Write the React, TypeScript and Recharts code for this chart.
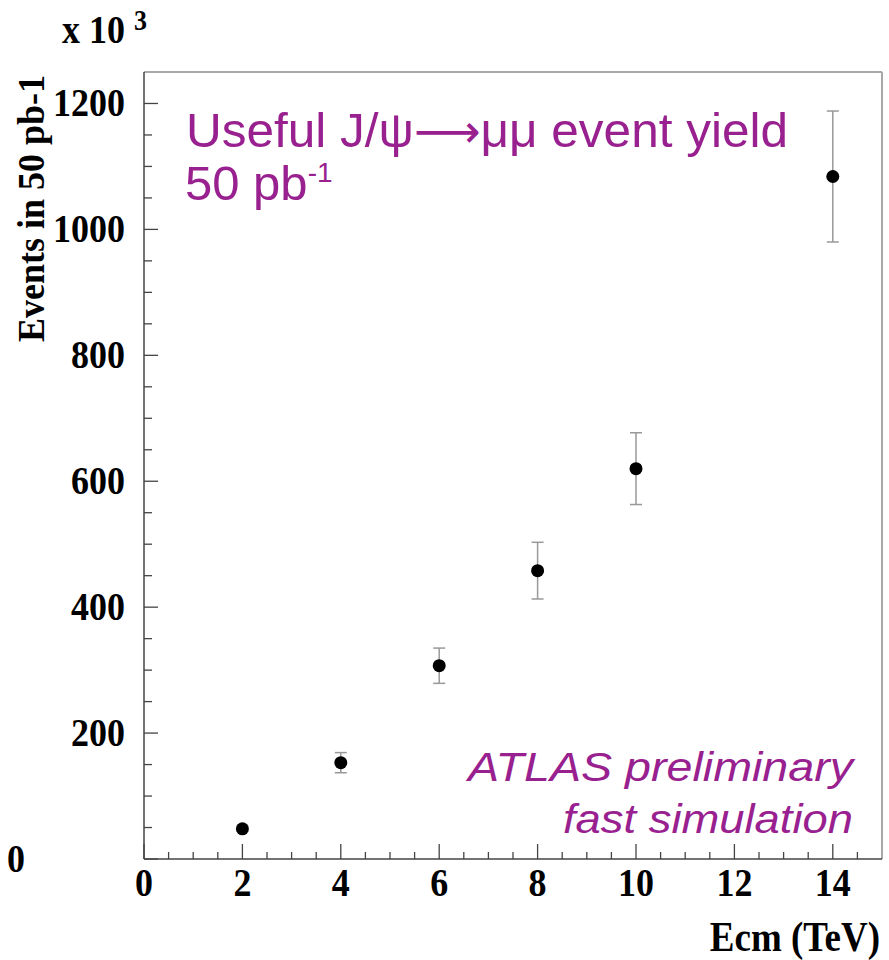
import React from 'react';
import {
    ComposedChart,
    Scatter,
    ErrorBar,
    XAxis,
    YAxis,
    ReferenceLine,
} from 'recharts';

// centre-of-mass energy (TeV) and event yield (x 10^3) with errors
const energies = [2, 4, 6, 8, 10, 14];
const yields = [48, 153, 307, 458, 620, 1084];
const yieldErrors = [4, 16, 28, 45, 57, 104];

const xTicks = [
    0, 0.5, 1, 1.5, 2, 2.5, 3, 3.5, 4, 4.5, 5, 5.5, 6, 6.5, 7, 7.5, 8, 8.5, 9,
    9.5, 10, 10.5, 11, 11.5, 12, 12.5, 13, 13.5, 14, 14.5,
];
const yTicks = [
    0, 50, 100, 150, 200, 250, 300, 350, 400, 450, 500, 550, 600, 650, 700, 750,
    800, 850, 900, 950, 1000, 1050, 1100, 1150, 1200,
];

const data = energies.map((e, i) => ({
    ecm: e,
    events: yields[i],
    err: yieldErrors[i],
}));

const PURPLE = '#98208f';
const AXIS = '#444';
const FRAME = '#a8a8a8';
const serif = '"Liberation Serif", "Times New Roman", serif';
const sans = '"Liberation Sans", Arial, sans-serif';

// ROOT-style labels are a bit taller than plain Times bold
const label = (x: number, y: number, text: string, anchor: string, size = 36) => (
    <text
        transform={`translate(${x},${y}) scale(1,1.12)`}
        textAnchor={anchor}
        fontFamily={serif}
        fontWeight="bold"
        fontSize={size}
        fill="#000"
    >
        {text}
    </text>
);

const YTick = (props: any) => {
    const { x, y, payload } = props;
    const v = payload.value;
    const major = v % 200 === 0;
    return (
        <g>
            <line x1={x} y1={y} x2={x + (major ? 14 : 8)} y2={y} stroke={AXIS} strokeWidth={1.3} />
            {major && label(v === 0 ? x - 119 : x - 19, y + 13, String(v), 'end')}
        </g>
    );
};

const XTick = (props: any) => {
    const { x, y, payload } = props;
    const v = payload.value;
    const major = v % 2 === 0;
    return (
        <g>
            <line x1={x} y1={y} x2={x} y2={y - (major ? 15 : 7)} stroke={AXIS} strokeWidth={1.3} />
            {major && label(x, y + 37, String(v), 'middle')}
        </g>
    );
};

const Dot = (props: any) => <circle cx={props.cx} cy={props.cy} r={6.5} fill="#000" />;

export default function App() {
    return (
        <div style={{ position: 'absolute', left: 0, top: 0, width: 889, height: 960, background: '#fff' }}>
            <ComposedChart
                width={889}
                height={960}
                data={data}
                margin={{ top: 72, right: 7, bottom: 0, left: 0 }}
            >
                <XAxis
                    dataKey="ecm"
                    type="number"
                    domain={[0, 15]}
                    ticks={xTicks}
                    interval={0}
                    height={101}
                    tickSize={0}
                    tickMargin={0}
                    tickLine={false}
                    tick={<XTick />}
                    axisLine={{ stroke: AXIS, strokeWidth: 1.5 }}
                    allowDecimals
                />
                <YAxis
                    type="number"
                    domain={[0, 1250]}
                    ticks={yTicks}
                    interval={0}
                    width={144}
                    tickSize={0}
                    tickMargin={0}
                    tickLine={false}
                    tick={<YTick />}
                    axisLine={{ stroke: AXIS, strokeWidth: 1.5 }}
                />
                <ReferenceLine y={1250} stroke={FRAME} strokeWidth={2} />
                <ReferenceLine x={15} stroke={FRAME} strokeWidth={2} />
                <Scatter dataKey="events" shape={<Dot />} isAnimationActive={false}>
                    <ErrorBar
                        dataKey="err"
                        direction="y"
                        width={6}
                        stroke="#999"
                        strokeWidth={1.5}
                        isAnimationActive={false}
                    />
                </Scatter>
            </ComposedChart>
            <svg
                width={889}
                height={960}
                style={{ position: 'absolute', left: 0, top: 0, pointerEvents: 'none' }}
            >
                {label(62, 43, 'x 10', 'start')}
                {label(134, 30, '3', 'start', 26)}
                <text
                    transform="translate(44,75) rotate(-90) scale(1,1.08)"
                    textAnchor="end"
                    fontFamily={serif}
                    fontWeight="bold"
                    fontSize={36}
                >
                    Events in 50 pb-1
                </text>
                {label(880, 951, 'Ecm (TeV)', 'end', 37)}
                <text
                    x={186}
                    y={147}
                    fontFamily={sans}
                    fontSize={49}
                    fill={PURPLE}
                    textLength={602}
                    lengthAdjust="spacingAndGlyphs"
                >
                    Useful J/ψ
                    <tspan fontFamily='"DejaVu Sans", sans-serif' fontSize={46}>⟶</tspan>
                    μμ event yield
                </text>
                <text x={185} y={200} fontFamily={sans} fontSize={49} fill={PURPLE}>
                    50 pb
                    <tspan fontSize={28} dy={-18}>-1</tspan>
                </text>
                <text
                    x={853}
                    y={781}
                    textAnchor="end"
                    fontFamily={sans}
                    fontStyle="italic"
                    fontSize={40}
                    fill={PURPLE}
                    textLength={385}
                    lengthAdjust="spacingAndGlyphs"
                >
                    ATLAS preliminary
                </text>
                <text
                    x={853}
                    y={833}
                    textAnchor="end"
                    fontFamily={sans}
                    fontStyle="italic"
                    fontSize={40}
                    fill={PURPLE}
                    textLength={290}
                    lengthAdjust="spacingAndGlyphs"
                >
                    fast simulation
                </text>
            </svg>
        </div>
    );
}
